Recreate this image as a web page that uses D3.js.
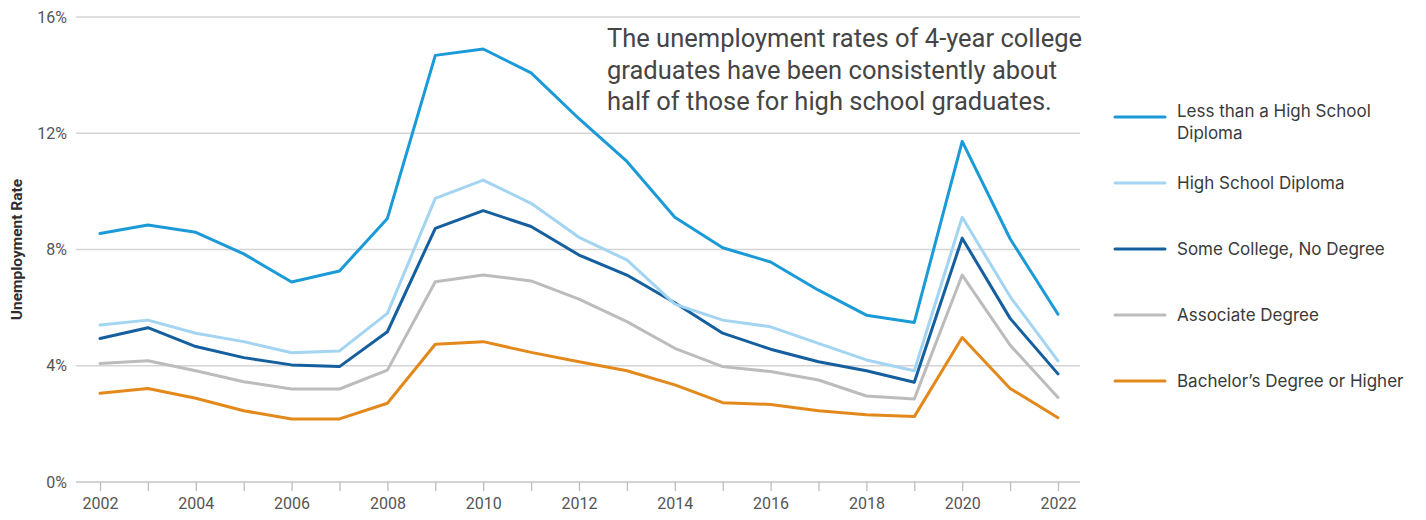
<!DOCTYPE html>
<html>
<head>
<meta charset="utf-8">
<script src="https://cdn.jsdelivr.net/npm/d3@7"></script>
<style>
  html, body { margin: 0; padding: 0; background: #fff; }
  svg { display: block; font-family: Roboto, "Noto Sans", sans-serif; }
</style>
</head>
<body>
<svg id="chart" width="1426" height="520"></svg>
<script>
// Unemployment rate by educational attainment, 2002–2022 (percent)
const years = d3.range(2002, 2023);
const lessThanHS   = [8.55, 8.84, 8.59, 7.85, 6.88, 7.26, 9.07, 14.68, 14.9, 14.08, 12.5, 11.03, 9.11, 8.06, 7.57, 6.6, 5.74, 5.49, 11.72, 8.37, 5.77];
const highSchool   = [5.4, 5.57, 5.12, 4.83, 4.45, 4.51, 5.8, 9.76, 10.39, 9.59, 8.42, 7.64, 6.12, 5.57, 5.34, 4.77, 4.2, 3.83, 9.11, 6.38, 4.17];
const someCollege  = [4.94, 5.31, 4.66, 4.28, 4.03, 3.97, 5.17, 8.73, 9.34, 8.79, 7.81, 7.12, 6.17, 5.12, 4.57, 4.14, 3.83, 3.43, 8.39, 5.63, 3.72];
const associate    = [4.08, 4.17, 3.83, 3.45, 3.2, 3.2, 3.85, 6.89, 7.12, 6.92, 6.29, 5.52, 4.6, 3.97, 3.8, 3.51, 2.96, 2.86, 7.12, 4.71, 2.91];
const bachelors    = [3.05, 3.22, 2.88, 2.45, 2.17, 2.17, 2.71, 4.74, 4.83, 4.46, 4.14, 3.83, 3.34, 2.73, 2.67, 2.45, 2.31, 2.25, 4.97, 3.22, 2.21];

const seriesNames  = ["Less than a High School Diploma", "High School Diploma", "Some College, No Degree", "Associate Degree", "Bachelor’s Degree or Higher"];
const seriesValues = [lessThanHS, highSchool, someCollege, associate, bachelors];
const seriesColors = ["#1a9ad7", "#a3d4f1", "#155f9f", "#bcbcbc", "#e3891b"];
// legend labels broken onto lines
const legendLines  = [["Less than a High School", "Diploma"], ["High School Diploma"], ["Some College, No Degree"], ["Associate Degree"], ["Bachelor’s Degree or Higher"]];

const yTicks = [0, 4, 8, 12, 16];
const xLabelYears = d3.range(2002, 2023, 2);
const noteLines = [
  "The unemployment rates of 4-year college",
  "graduates have been consistently about",
  "half of those for high school graduates."
];

const svg = d3.select("#chart");
const gridLeft = 76, gridRight = 1080;

const x = d3.scaleLinear().domain([2002, 2022]).range([100, 1058]);
const y = d3.scaleLinear().domain([0, 16]).range([482, 17]);

// horizontal gridlines
svg.append("g")
  .selectAll("line")
  .data(yTicks.filter(d => d > 0))
  .join("line")
  .attr("x1", gridLeft).attr("x2", gridRight)
  .attr("y1", d => y(d)).attr("y2", d => y(d))
  .attr("stroke", "#d4d4d4").attr("stroke-width", 1.5);

// y tick labels
svg.append("g")
  .selectAll("text")
  .data(yTicks)
  .join("text")
  .attr("x", 67).attr("y", d => y(d))
  .attr("dy", "0.35em")
  .attr("text-anchor", "end")
  .attr("font-size", 16)
  .attr("fill", "#555")
  .text(d => d + "%");

// x axis
const xAxis = d3.axisBottom(x)
  .tickValues(years)
  .tickSize(9)
  .tickFormat(d => (xLabelYears.includes(d) ? String(d) : ""));
const gx = svg.append("g").attr("transform", `translate(0,${y(0)})`).call(xAxis);
gx.select(".domain").remove();
gx.insert("line", ":first-child")
  .attr("x1", gridLeft).attr("x2", gridRight)
  .attr("stroke", "#c4c4c4").attr("stroke-width", 1.5);
gx.selectAll(".tick line").attr("stroke", "#bdbdbd").attr("stroke-width", 1.3);
gx.selectAll(".tick text")
  .attr("font-family", "Roboto, sans-serif")
  .attr("font-size", 16).attr("fill", "#555").attr("y", 16);

// y axis title
svg.append("text")
  .attr("transform", `translate(22,${y(8)}) rotate(-90)`)
  .attr("text-anchor", "middle")
  .attr("font-size", 15.5)
  .attr("font-weight", 700)
  .attr("fill", "#2e2e2e")
  .text("Unemployment Rate");

// series lines (drawn bottom to top so the top series sits above)
const line = d3.line().x((d, i) => x(years[i])).y(d => y(d));
svg.append("g")
  .selectAll("path")
  .data(seriesValues.map((v, i) => ({ v, c: seriesColors[i] })).reverse())
  .join("path")
  .attr("d", d => line(d.v))
  .attr("fill", "none")
  .attr("stroke", d => d.c)
  .attr("stroke-width", 3)
  .attr("stroke-linejoin", "round")
  .attr("stroke-linecap", "round");

// annotation
const note = svg.append("text")
  .attr("x", 607).attr("y", 47)
  .attr("font-size", 25.5)
  .attr("fill", "#454545");
note.selectAll("tspan")
  .data(noteLines)
  .join("tspan")
  .attr("x", 607)
  .attr("dy", (d, i) => (i === 0 ? 0 : 31.7))
  .text(d => d);

// legend
const legendY = [117, 183, 249, 315, 381];
const legend = svg.append("g");
seriesNames.forEach((name, i) => {
  const g = legend.append("g").attr("transform", `translate(0,${legendY[i]})`);
  g.append("line")
    .attr("x1", 1115).attr("x2", 1165)
    .attr("stroke", seriesColors[i]).attr("stroke-width", 3)
    .attr("stroke-linecap", "round");
  const lines = legendLines[i];
  const t = g.append("text")
    .attr("font-family", "Inter, Roboto, sans-serif")
    .attr("font-size", 17).attr("fill", "#3a3a3a");
  const start = lines.length > 1 ? -6 : 0;
  lines.forEach((l, j) => {
    t.append("tspan")
      .attr("x", 1177)
      .attr("y", start + j * 22)
      .attr("dy", "0.35em")
      .text(l);
  });
});
</script>
</body>
</html>
